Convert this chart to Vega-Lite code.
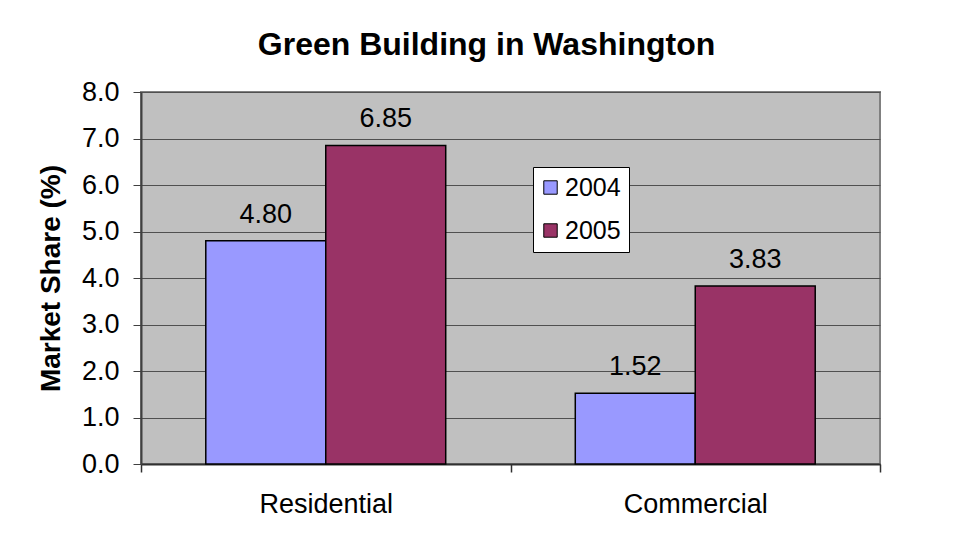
{
  "$schema": "https://vega.github.io/schema/vega-lite/v6.json",
  "width": 739,
  "height": 372,
  "autosize": {"type": "none"},
  "padding": {"left": 141, "top": 92, "right": 74, "bottom": 74},
  "background": "white",
  "title": {
    "text": "Green Building in Washington",
    "font": "Liberation Sans",
    "fontSize": 32,
    "fontWeight": "bold",
    "color": "black",
    "anchor": "middle",
    "dx": -24,
    "offset": 16
  },
  "config": {
    "font": "Liberation Sans",
    "view": {"fill": "#C0C0C0", "stroke": "#808080", "strokeWidth": 2}
  },
  "data": {
    "values": [
      {"type": "Residential", "year": "2004", "share": 4.80},
      {"type": "Residential", "year": "2005", "share": 6.85},
      {"type": "Commercial", "year": "2004", "share": 1.52},
      {"type": "Commercial", "year": "2005", "share": 3.83}
    ]
  },
  "encoding": {
    "x": {
      "field": "type",
      "type": "nominal",
      "sort": ["Residential", "Commercial"],
      "scale": {"paddingInner": 0, "paddingOuter": 0},
      "axis": {
        "title": null,
        "labelAngle": 0,
        "labelFontSize": 27,
        "labelColor": "black",
        "labelPadding": 19,
        "tickBand": "extent",
        "tickSize": 8,
        "tickWidth": 1.5,
        "tickColor": "#303030",
        "domainColor": "#303030",
        "domainWidth": 2,
        "grid": false
      }
    },
    "xOffset": {
      "field": "year",
      "type": "nominal",
      "scale": {"paddingInner": 0, "paddingOuter": 0.54}
    },
    "y": {
      "field": "share",
      "type": "quantitative",
      "scale": {"domain": [0, 8], "nice": false},
      "axis": {
        "title": "Market Share (%)",
        "titleFontSize": 28,
        "titleFontWeight": "bold",
        "titleColor": "black",
        "titlePadding": 16,
        "values": [0, 1, 2, 3, 4, 5, 6, 7, 8],
        "format": ".1f",
        "labelFontSize": 27,
        "labelColor": "black",
        "labelPadding": 14,
        "labelFlush": false,
        "tickSize": 8,
        "tickColor": "#404040",
        "domainColor": "#404040",
        "domainWidth": 2,
        "grid": true,
        "gridColor": "#505050",
        "gridWidth": 1
      }
    }
  },
  "layer": [
    {
      "mark": {"type": "bar", "stroke": "black", "strokeWidth": 1.5},
      "encoding": {
        "color": {
          "field": "year",
          "type": "nominal",
          "scale": {"domain": ["2004", "2005"], "range": ["#9999FF", "#993366"]},
          "legend": {
            "title": null,
            "orient": "none",
            "legendX": 392,
            "legendY": 75,
            "fillColor": "white",
            "strokeColor": "black",
            "padding": 8,
            "symbolType": "square",
            "symbolSize": 180,
            "symbolOffset": -3,
            "symbolStrokeColor": "black",
            "symbolStrokeWidth": 1,
            "symbolOpacity": 1,
            "labelFontSize": 25,
            "labelColor": "black",
            "labelOffset": 2,
            "rowPadding": 17
          }
        }
      }
    },
    {
      "mark": {"type": "text", "baseline": "alphabetic", "dy": -18, "fontSize": 27, "color": "black"},
      "encoding": {
        "text": {"field": "share", "type": "quantitative", "format": ".2f"}
      }
    }
  ]
}
